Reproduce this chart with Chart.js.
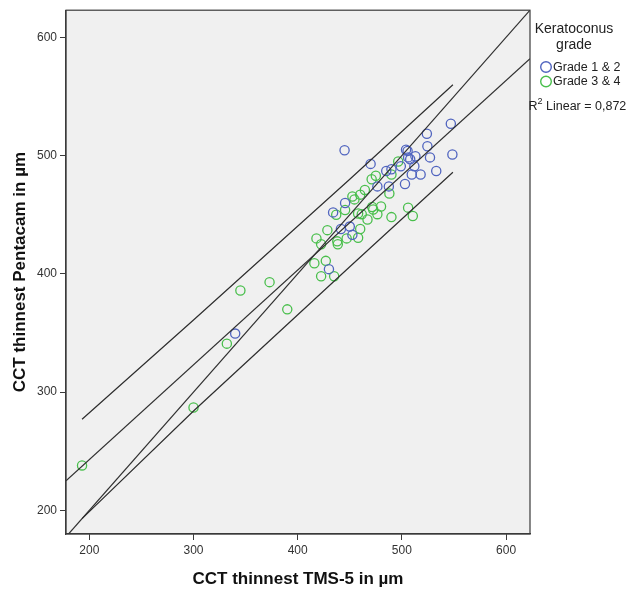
<!DOCTYPE html>
<html><head><meta charset="utf-8">
<script src="https://cdn.jsdelivr.net/npm/chart.js@4/dist/chart.umd.min.js"></script>
<style>html,body{margin:0;padding:0;background:#fff;}#wrap{width:628px;height:590px;position:relative}</style>
</head><body><div id="wrap"><canvas id="c" width="628" height="590"></canvas></div>
<script>
// ---- data ----
const grade12X = [445,470,504,505.5,506,508,513,524,524.5,527,547,548.5,533,518,509.5,512,503,499,485,490,476.5,487.5,445.5,434,441.5,450,452.5,430,340];
const grade12Y = [504.5,493,505,504,498.5,497,499.5,518.5,508,498.5,527,501,487,484,484,491,476,491,487,488.5,474,474,460,452,438,440,433,404,349.5];
const grade34X = [193,300,332,345,373,390,416,427,422.5,435,418,422.5,428.5,438,438.5,447,458,460,437,445.5,452.5,454.5,460,464.5,458,461.5,467,471.5,472.5,476.5,480,490,488,471,475,490,496.5,506,510.5];
const grade34Y = [238,287,341,386,393,370,409,411,398,398,430,425,437,427.5,425,430,430.5,438,450,454,465.5,463,467,471,451,450.5,446,456.5,454.5,450.5,457,448,468,480,483,484,495,456,449];
const fitX = [177.6, 623];
const fitY = [225, 582];
const identX = [177.6, 623];
const identY = [177.6, 623];
const upperX = [193, 300, 450, 549];
const upperY = [277, 361, 480, 560];
const lowerX = [193, 300, 450, 549];
const lowerY = [193, 284, 406, 486];
const xTicks = [200, 300, 400, 500, 600];
const yTicks = [200, 300, 400, 500, 600];
const legendTitle = ['Keratoconus', 'grade'];
const seriesLabels = ['Grade 1 & 2', 'Grade 3 & 4'];
const r2Text = ' Linear = 0,872';

const BLUE = '#5064bf';
const GREEN = '#49bf4c';
const LINE = '#2e2e2e';
const FONT = '"Liberation Sans", Arial, sans-serif';

const zip = (xs, ys) => xs.map((x, i) => ({x, y: ys[i]}));
const lineDs = (xs, ys) => ({type: 'line', data: zip(xs, ys), showLine: true, borderColor: LINE, borderWidth: 1.2, pointRadius: 0, fill: false, tension: 0, order: 0});

const bgPlugin = {
  id: 'bg',
  beforeDraw(chart) {
    const {ctx, chartArea: a} = chart;
    ctx.save();
    ctx.fillStyle = '#f0f0f0';
    ctx.fillRect(a.left, a.top, a.right - a.left, a.bottom - a.top);
    ctx.restore();
  },
  afterDraw(chart) {
    const {ctx, chartArea: a} = chart;
    ctx.save();
    ctx.strokeStyle = '#3a3a3a';
    ctx.lineWidth = 1.2;
    ctx.strokeRect(a.left, a.top, a.right - a.left, a.bottom - a.top);
    // legend
    const cx = 574;
    ctx.fillStyle = '#222';
    ctx.textAlign = 'center';
    ctx.textBaseline = 'middle';
    ctx.font = '14px ' + FONT;
    legendTitle.forEach((t, i) => ctx.fillText(t, cx, 29.5 + i * 15.5));
    ctx.textAlign = 'left';
    ctx.font = '12.5px ' + FONT;
    const cols = [BLUE, GREEN];
    seriesLabels.forEach((t, i) => {
      const y = 67 + i * 14.5;
      ctx.beginPath();
      ctx.strokeStyle = cols[i];
      ctx.lineWidth = 1.4;
      ctx.arc(546, y, 5.3, 0, Math.PI * 2);
      ctx.stroke();
      ctx.fillText(t, 553, y + 0.5);
    });
    ctx.font = '12.5px ' + FONT;
    ctx.fillText('R', 528.5, 107);
    const rw = ctx.measureText('R').width;
    ctx.font = '9px ' + FONT;
    ctx.fillText('2', 528.5 + rw, 102);
    const sw = ctx.measureText('2').width;
    ctx.font = '12.5px ' + FONT;
    ctx.fillText(r2Text, 528.5 + rw + sw, 107);
    ctx.restore();
  }
};

new Chart(document.getElementById('c'), {
  type: 'scatter',
  data: {
    datasets: [
      lineDs(fitX, fitY),
      lineDs(identX, identY),
      lineDs(upperX, upperY),
      lineDs(lowerX, lowerY),
      {label: seriesLabels[0], data: zip(grade12X, grade12Y), pointRadius: 4.6, pointBorderWidth: 1.3, borderColor: BLUE, backgroundColor: 'rgba(0,0,0,0)', pointHoverRadius: 4.6, order: 1},
      {label: seriesLabels[1], data: zip(grade34X, grade34Y), pointRadius: 4.6, pointBorderWidth: 1.3, borderColor: GREEN, backgroundColor: 'rgba(0,0,0,0)', pointHoverRadius: 4.6, order: 1}
    ]
  },
  options: {
    responsive: false,
    devicePixelRatio: 1,
    animation: false,
    events: [],
    layout: {padding: {left: 0, top: 8, right: 98, bottom: 0}},
    plugins: {legend: {display: false}, tooltip: {enabled: false}},
    scales: {
      x: {
        type: 'linear', min: 177.6, max: 623,
        afterBuildTicks: s => { s.ticks = xTicks.map(v => ({value: v})); },
        afterFit: s => { s.height = 56; },
        grid: {drawOnChartArea: false, drawTicks: true, tickLength: 6, color: '#3a3a3a', lineWidth: 1},
        border: {display: true, color: '#3a3a3a', width: 1.2},
        ticks: {color: '#333', font: {family: FONT, size: 12}, padding: 3, maxRotation: 0},
        title: {display: true, text: 'CCT thinnest TMS-5 in µm', color: '#111', font: {family: FONT, size: 17, weight: 'bold', lineHeight: 1.2}, padding: {top: 0, bottom: 0}}
      },
      y: {
        type: 'linear', min: 180, max: 623,
        afterBuildTicks: s => { s.ticks = yTicks.map(v => ({value: v})); },
        afterFit: s => { s.width = 66; },
        grid: {drawOnChartArea: false, drawTicks: true, tickLength: 6, color: '#3a3a3a', lineWidth: 1},
        border: {display: true, color: '#3a3a3a', width: 1.2},
        ticks: {color: '#333', font: {family: FONT, size: 12}, padding: 3},
        title: {display: true, text: 'CCT thinnest Pentacam in µm', color: '#111', font: {family: FONT, size: 17, weight: 'bold', lineHeight: 1.2}, padding: {top: 10, bottom: 0}}
      }
    }
  },
  plugins: [bgPlugin]
});
</script></body></html>
